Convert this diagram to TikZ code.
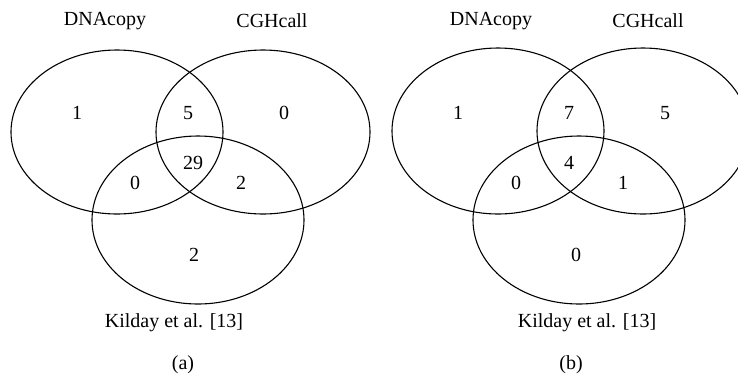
\documentclass[tikz,border=0pt]{standalone}
\usepackage{fontspec}
\setmainfont{Liberation Serif}
\begin{document}
\begin{tikzpicture}[x=1pt,y=-1pt,
  venn/.style={line width=1.1pt},
  lab/.style={font=\fontsize{20}{24}\selectfont, inner sep=0pt},
  num/.style={font=\fontsize{20}{24}\selectfont, inner sep=0pt}]
\useasboundingbox (0,0) rectangle (738,376);
% panel (a)
\draw[venn] (117,132) ellipse [x radius=106, y radius=82];
\draw[venn] (263,132) ellipse [x radius=107, y radius=82];
\draw[venn] (198,220) ellipse [x radius=106, y radius=84];
\node[lab] (a-dna) at (105,21) {DNAcopy};
\node[lab] (a-cgh) at (272,21) {CGHcall};
\node[lab] (a-kil) at (174,323) {Kilday et al. [13]};
\node[lab] (a-cap) at (183,365) {(a)};
\node[num] (a-n1) at (77,113) {1};
\node[num] (a-n2) at (188,113) {5};
\node[num] (a-n3) at (284,113) {0};
\node[num] (a-n4) at (193,163) {29};
\node[num] (a-n5) at (135,183) {0};
\node[num] (a-n6) at (241,183) {2};
\node[num] (a-n7) at (194,255) {2};
% panel (b)
\draw[venn] (498,131) ellipse [x radius=106, y radius=83];
\draw[venn] (643,131) ellipse [x radius=106, y radius=83];
\draw[venn] (579,220) ellipse [x radius=106, y radius=84];
\node[lab] (b-dna) at (491,21) {DNAcopy};
\node[lab] (b-cgh) at (648,21) {CGHcall};
\node[lab] (b-kil) at (587,323) {Kilday et al. [13]};
\node[lab] (b-cap) at (571,365) {(b)};
\node[num] (b-n1) at (458,113) {1};
\node[num] (b-n2) at (569,113) {7};
\node[num] (b-n3) at (665,113) {5};
\node[num] (b-n4) at (569,163) {4};
\node[num] (b-n5) at (516,183) {0};
\node[num] (b-n6) at (623,183) {1};
\node[num] (b-n7) at (576,255) {0};
\end{tikzpicture}
\end{document}
